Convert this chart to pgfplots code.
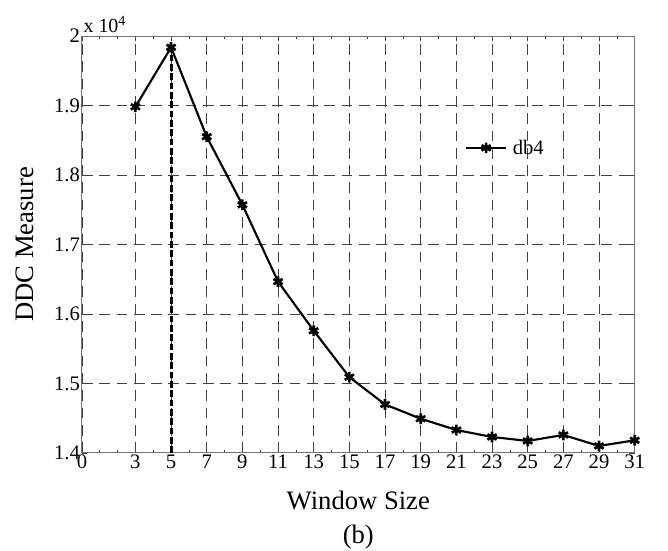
\documentclass[border=0pt]{standalone}
\usepackage{fontspec}
\setmainfont{Liberation Serif}
\usepackage{pgfplots}
\pgfplotsset{compat=1.18}
\begin{document}
\begin{tikzpicture}
\begin{axis}[
  scale only axis,
  width=415pt, height=313pt,
  xmin=0, xmax=31, ymin=14000, ymax=20000,
  xtick={0,3,5,7,9,11,13,15,17,19,21,23,25,27,29,31},
  minor xtick={1,2,4,6,8,10,12,14,16,18,20,22,24,26,28,30},
  ytick={14000,15000,16000,17000,18000,19000,20000},
  yticklabels={1.4,1.5,1.6,1.7,1.8,1.9,2},
  scaled y ticks=false,
  /pgf/number format/assume math mode=true,
  tick label style={font=\fontsize{15.5}{17}\selectfont},
  xticklabel style={yshift=2pt},
  yticklabel style={xshift=2pt},
  tick align=inside,
  major tick length=4pt, minor tick length=2.5pt,
  tick style={black!75, line width=0.5pt},
  axis line style={black!55, line width=0.7pt},
  xmajorgrids, ymajorgrids,
  major grid style={dash pattern=on 8pt off 5pt, black!75, line width=0.6pt},
  xlabel={Window Size},
  ylabel={DDC Measure},
  label style={font=\fontsize{20}{22}\selectfont},
  xlabel style={at={(axis description cs:0.5,-0.114)}, anchor=center},
  ylabel style={at={(axis description cs:-0.104,0.5)}, anchor=center},
  legend style={at={(axis cs:21.4,18390)}, anchor=west, draw=none, fill=none, font=\fontsize{15.5}{17}\selectfont, inner sep=1pt},
  legend image code/.code={\path[draw=none, fill=none] (0pt,-5pt) rectangle (33pt,5pt); \draw[#1, mark repeat=2, mark phase=2] plot coordinates {(0pt,0pt) (15pt,0pt) (30pt,0pt)};},
]
\addplot[black, line width=1.6pt, mark=asterisk, mark size=4pt, mark options={line width=2pt}]
coordinates {
(3,18980) (5,19837) (7,18550) (9,17570) (11,16465) (13,15758) (15,15090)
(17,14697) (19,14492) (21,14329) (23,14229) (25,14172) (27,14258) (29,14100) (31,14181)
};
\addlegendentry{db4}
\addplot[black, line width=2.2pt, dash pattern=on 5pt off 2pt, forget plot]
coordinates {(5,14000) (5,19837)};
\end{axis}
\node[anchor=south west, inner sep=1pt, font=\fontsize{15}{17}\selectfont] at (0pt,314pt) {x 10\textsuperscript{4}};
\node[font=\fontsize{20}{22}\selectfont] at (207.5pt,-63pt) {(b)};
\pgfresetboundingbox
\path[use as bounding box] (-61.5pt,-73.5pt) rectangle (440pt,340pt);
\end{tikzpicture}
\end{document}
